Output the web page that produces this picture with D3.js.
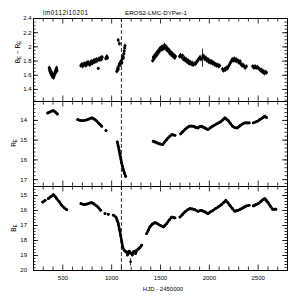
<!DOCTYPE html>
<html>
<head>
<meta charset="utf-8">
<script src="https://cdn.jsdelivr.net/npm/d3@7"></script>
<style>
  body { margin: 0; background: #fff; }
  text { font-family: "Liberation Sans", Arial, sans-serif; fill: #000; }
</style>
</head>
<body>
<div id="chart"></div>
<script>
// titles and axis labels
const titleLeft = "lm0112l10201";
const titleRight = "EROS2-LMC-DYPer-1";
const xLabel = "HJD - 2450000";
const xTicks = [500, 1000, 1500, 2000, 2500];
const cutHJD = 1105;

// B_E - R_E colour: [hjd, colour, error]
const colourPts = [
  [366,1.70,.03],[370,1.66,.03],[374,1.68,.03],[378,1.63,.03],[382,1.65,.03],[386,1.61,.03],
  [390,1.63,.03],[394,1.59,.03],[398,1.61,.03],[402,1.57,.03],[406,1.59,.03],[410,1.56,.03],
  [414,1.58,.03],[418,1.60,.03],[422,1.62,.03],[426,1.64,.03],[430,1.66,.03],[434,1.63,.03],
  [438,1.68,.03],[442,1.70,.03],[446,1.66,.03],
  [690,1.73,.03],[700,1.75,.03],[708,1.72,.03],[716,1.74,.03],[724,1.76,.03],[732,1.75,.03],
  [740,1.73,.03],[748,1.77,.03],[756,1.75,.03],[764,1.78,.03],[772,1.76,.03],[780,1.74,.03],
  [788,1.77,.03],[796,1.79,.03],[804,1.76,.03],[812,1.78,.03],[820,1.80,.03],[828,1.78,.03],
  [836,1.81,.03],[844,1.79,.03],[852,1.82,.03],[860,1.80,.03],[868,1.69,.02],[876,1.83,.03],
  [884,1.81,.03],[892,1.84,.03],[900,1.82,.03],[908,1.85,.03],[945,1.83,.03],[955,1.86,.03],
  [962,1.84,.03],
  [1058,1.65,.03],[1064,1.67,.03],[1068,1.70,.03],[1072,2.09,.03],[1074,1.68,.03],[1080,1.73,.03],
  [1084,2.04,.03],[1086,1.76,.03],[1092,1.74,.03],[1098,1.78,.03],[1104,1.80,.03],[1110,1.77,.03],
  [1116,1.83,.03],[1120,1.86,.03],[1125,1.84,.03],[1130,1.90,.03],[1134,1.94,.03],[1138,1.98,.03],
  [1142,2.01,.03],
  [1425,1.80,.03],[1432,1.85,.03],[1440,1.83,.03],[1448,1.88,.03],[1456,1.86,.03],[1465,1.91,.03],
  [1473,1.89,.03],[1481,1.94,.03],[1490,1.92,.03],[1498,1.97,.03],[1506,1.95,.03],[1514,1.99,.03],
  [1522,1.96,.03],[1530,2.00,.03],[1538,1.97,.03],[1546,2.02,.03],[1554,1.98,.03],[1562,2.00,.03],
  [1570,1.95,.03],[1578,1.97,.03],[1586,1.93,.03],[1594,1.95,.03],[1602,1.90,.03],[1610,1.92,.03],
  [1618,1.88,.03],[1626,1.90,.03],[1634,1.86,.03],[1642,1.88,.03],[1650,1.84,.03],[1658,1.86,.03],
  [1700,1.86,.03],[1710,1.88,.03],[1720,1.85,.03],[1730,1.87,.03],[1740,1.82,.03],[1750,1.84,.03],
  [1760,1.80,.03],[1770,1.82,.03],[1780,1.78,.03],[1790,1.80,.03],[1800,1.76,.03],[1810,1.78,.03],
  [1820,1.75,.03],[1830,1.77,.03],[1840,1.74,.03],[1850,1.76,.03],[1860,1.75,.03],[1870,1.77,.03],
  [1880,1.79,.03],[1890,1.81,.03],[1900,1.83,.03],[1910,1.85,.03],[1920,1.82,.03],[1935,1.84,.13],
  [1940,1.87,.03],[1950,1.86,.03],[1960,1.82,.03],[1970,1.84,.03],[1980,1.80,.03],[1990,1.82,.03],
  [2000,1.78,.03],[2010,1.80,.03],[2020,1.77,.03],[2030,1.79,.03],[2040,1.76,.03],[2050,1.77,.03],
  [2060,1.74,.03],[2070,1.75,.03],[2080,1.73,.03],[2090,1.74,.03],[2100,1.72,.03],[2110,1.73,.03],
  [2140,1.68,.03],[2150,1.66,.03],[2160,1.68,.03],[2170,1.67,.03],[2180,1.70,.03],[2190,1.69,.03],
  [2200,1.72,.03],[2210,1.74,.03],[2220,1.77,.03],[2230,1.79,.03],[2240,1.82,.03],[2250,1.80,.03],
  [2260,1.83,.03],[2270,1.80,.03],[2280,1.82,.03],[2290,1.79,.03],[2300,1.80,.03],[2310,1.77,.03],
  [2320,1.79,.03],[2330,1.75,.03],[2340,1.73,.03],[2350,1.74,.03],[2360,1.72,.03],[2372,1.70,.03],
  [2384,1.72,.03],
  [2450,1.72,.03],[2462,1.70,.03],[2474,1.72,.03],[2486,1.70,.03],[2498,1.71,.03],[2510,1.69,.03],
  [2520,1.68,.03],[2530,1.66,.03],[2540,1.67,.03],[2550,1.64,.03],[2560,1.65,.03],[2570,1.62,.03],
  [2580,1.64,.03],[2590,1.63,.03]
];

// R_E magnitude: [hjd, mag]
const rMag = [
  [350,13.65],[370,13.60],[390,13.55],[408,13.53],[428,13.60],[449,13.70],
  [657,13.98],[678,14.02],[698,14.04],[720,14.03],[749,14.00],[775,13.95],[800,13.90],[818,13.93],
  [834,13.98],[852,14.06],[868,14.15],[886,14.23],[903,14.32],
  [947,14.54],
  [1063,15.12],[1073,15.34],[1082,15.55],[1090,15.76],[1099,15.97],[1107,16.18],[1116,16.35],
  [1124,16.52],[1136,16.70],[1148,16.86],
  [1431,15.08],[1450,15.12],[1472,15.17],[1500,15.22],[1527,15.25],[1548,15.12],[1568,15.00],
  [1593,14.86],[1619,14.75],[1636,14.76],[1653,14.78],
  [1711,14.71],[1733,14.60],[1755,14.49],[1777,14.40],[1799,14.32],[1820,14.31],[1840,14.32],
  [1862,14.37],[1885,14.41],[1905,14.35],[1926,14.32],[1943,14.37],[1960,14.41],[1977,14.46],
  [1993,14.49],[2015,14.40],[2038,14.32],[2058,14.26],[2079,14.20],[2100,14.15],[2120,14.10],
  [2142,14.00],[2164,13.90],[2180,13.96],[2198,14.03],[2220,14.18],[2243,14.32],[2266,14.39],
  [2290,14.41],[2308,14.34],[2325,14.27],[2347,14.20],[2369,14.15],[2391,14.15],[2413,14.15],
  [2454,14.15],[2475,14.11],[2495,14.07],[2518,14.00],[2540,13.93],[2557,13.87],[2573,13.81],
  [2590,13.88]
];

// B_E magnitude: [hjd, mag]
const bMag = [
  [299,15.47],[325,15.36],[357,15.24],[385,15.10],[408,14.98],[425,15.08],[442,15.24],[468,15.45],
  [494,15.69],[520,15.86],[545,15.98],
  [691,15.58],[712,15.62],[732,15.64],[755,15.60],[778,15.54],[800,15.51],[825,15.60],[852,15.73],
  [872,15.86],[893,16.02],
  [937,16.24],[971,16.29],[1022,16.35],
  [1049,16.47],[1062,16.70],[1073,16.91],[1085,17.30],[1097,17.69],[1108,18.10],[1118,18.47],
  [1134,18.69],[1148,18.78],[1159,18.80],[1166,19.00],[1175,18.90],[1185,18.75],[1192,18.85],
  [1208,18.90],[1216,19.00],[1226,18.80],[1243,18.75],[1250,18.90],[1261,18.69],[1278,18.60],
  [1295,18.50],[1312,18.35],
  [1363,17.58],[1380,17.35],[1397,17.13],[1420,16.95],[1448,16.85],[1465,16.88],[1482,16.95],
  [1508,17.05],[1533,17.13],[1550,17.03],[1568,16.91],[1593,16.68],[1619,16.47],[1636,16.50],
  [1653,16.53],
  [1704,16.47],[1730,16.30],[1755,16.13],[1780,16.00],[1806,15.91],[1830,15.93],[1857,15.98],
  [1875,16.05],[1891,16.09],[1910,16.04],[1926,16.02],[1943,16.08],[1960,16.13],[1977,16.20],
  [1993,16.24],[2018,16.12],[2044,16.02],[2070,15.90],[2096,15.80],[2113,15.72],[2130,15.64],
  [2152,15.50],[2174,15.36],[2195,15.52],[2215,15.69],[2240,15.90],[2266,16.09],[2283,16.05],
  [2300,16.02],[2322,15.95],[2345,15.87],[2365,15.80],[2386,15.73],[2413,15.69],
  [2454,15.73],[2480,15.65],[2505,15.58],[2530,15.45],[2550,15.32],[2573,15.24],[2590,15.38],
  [2607,15.51],[2630,15.75],[2652,15.95],[2670,15.95],[2686,15.95]
];
// isolated B_E point with its error bar: [hjd, mag, error]
const bOutliers = [[1199,19.45,0.25]];

const W = 304, H = 304;
const L = 33, R = 287;

const svg = d3.select("#chart").append("svg")
  .attr("width", W).attr("height", H);

const x = d3.scaleLinear().domain([200, 2800]).range([L, R]);
const y1 = d3.scaleLinear().domain([1.23, 2.4]).range([101, 18]);
const y2 = d3.scaleLinear().domain([13.04, 17.35]).range([101, 186]);
const y3 = d3.scaleLinear().domain([14.4, 20]).range([186, 270]);

const xMajor = d3.range(500, 2801, 500);
const xMinor = d3.range(200, 2801, 100).filter(v => v % 500 !== 0);

function frame(y, yMajor, yMinor, labelPad, fmt, showX) {
  const top = Math.min(...y.range());
  const bottom = Math.max(...y.range());
  const g = svg.append("g");
  const ax = [
    [d3.axisBottom, bottom, -5.5, xMajor], [d3.axisBottom, bottom, -3.5, xMinor],
    [d3.axisTop, top, -5.5, xMajor], [d3.axisTop, top, -3.5, xMinor]
  ];
  ax.forEach(a => {
    g.append("g").attr("transform", `translate(0,${a[1]})`)
      .call(a[0](x).tickValues(a[3]).tickSizeInner(a[2]).tickSizeOuter(0).tickFormat(""));
  });
  const ay = [
    [d3.axisLeft, L, -5, yMajor], [d3.axisLeft, L, -2.5, yMinor],
    [d3.axisRight, R, -5, yMajor], [d3.axisRight, R, -2.5, yMinor]
  ];
  ay.forEach(a => {
    g.append("g").attr("transform", `translate(${a[1]},0)`)
      .call(a[0](y).tickValues(a[3]).tickSizeInner(a[2]).tickSizeOuter(0).tickFormat(""));
  });
  // y tick labels
  g.append("g").attr("transform", `translate(${L},0)`)
    .call(d3.axisLeft(y).tickValues(yMajor).tickSize(0).tickPadding(labelPad).tickFormat(fmt))
    .call(s => s.select(".domain").remove());
  if (showX) {
    g.append("g").attr("transform", `translate(0,${bottom})`)
      .call(d3.axisBottom(x).tickValues(xTicks).tickSize(0).tickPadding(6).tickFormat(d3.format("d")))
      .call(s => s.select(".domain").remove());
  }
  g.selectAll("path.domain").attr("stroke", "#000").attr("stroke-width", 0.9);
  g.selectAll(".tick line").attr("stroke", "#000").attr("stroke-width", 0.8);
  g.selectAll("text").attr("font-family", null).style("font-size", "6px")
    .style("font-family", '"Liberation Sans Narrow", "Liberation Sans", Arial, sans-serif');
  return g;
}

frame(y1, [1.4, 1.6, 1.8, 2, 2.2, 2.4], d3.range(1.25, 2.401, 0.05).map(v => +v.toFixed(2)), 1.5, d3.format("~g"), false);
frame(y2, [14, 15, 16, 17], d3.range(13.2, 17.3, 0.2).map(v => +v.toFixed(1)), 6, d3.format("d"), false);
frame(y3, [15, 16, 17, 18, 19, 20], d3.range(14.4, 20.01, 0.2).map(v => +v.toFixed(1)), 6, d3.format("d"), true);

// dashed line marking the event
svg.append("line")
  .attr("x1", x(cutHJD)).attr("x2", x(cutHJD))
  .attr("y1", y1.range()[1]).attr("y2", y3.range()[1])
  .attr("stroke", "#000").attr("stroke-width", 0.8)
  .attr("stroke-dasharray", "4,2");

// colour panel: points with error bars
const cg = svg.append("g");
cg.selectAll("line").data(colourPts).enter().append("line")
  .attr("x1", d => x(d[0])).attr("x2", d => x(d[0]))
  .attr("y1", d => y1(d[1] - d[2])).attr("y2", d => y1(d[1] + d[2]))
  .attr("stroke", "#000").attr("stroke-width", 0.8);
cg.selectAll("circle").data(colourPts).enter().append("circle")
  .attr("cx", d => x(d[0])).attr("cy", d => y1(d[1]))
  .attr("r", 1.5).attr("fill", "#000");

// split light curve wherever there is a gap in time
function segments(pts, gap) {
  const out = [];
  let cur = [];
  pts.forEach((p, i) => {
    if (i > 0 && p[0] - pts[i - 1][0] > gap) { out.push(cur); cur = []; }
    cur.push(p);
  });
  if (cur.length) out.push(cur);
  return out;
}

function curve(data, y) {
  const g = svg.append("g");
  const line = d3.line().x(d => x(d[0])).y(d => y(d[1]));
  g.selectAll("path").data(segments(data, 30)).enter().append("path")
    .attr("d", line).attr("fill", "none").attr("stroke", "#000")
    .attr("stroke-width", 2.6).attr("stroke-linecap", "round").attr("stroke-linejoin", "round");
  g.selectAll("circle").data(data).enter().append("circle")
    .attr("cx", d => x(d[0])).attr("cy", d => y(d[1]))
    .attr("r", 1.4).attr("fill", "#000");
  return g;
}

curve(rMag, y2);
const bg = curve(bMag, y3);
bg.selectAll("line").data(bOutliers).enter().append("line")
  .attr("x1", d => x(d[0])).attr("x2", d => x(d[0]))
  .attr("y1", d => y3(d[1] - d[2])).attr("y2", d => y3(d[1] + d[2]))
  .attr("stroke", "#000").attr("stroke-width", 0.8);
bg.selectAll("circle.out").data(bOutliers).enter().append("circle")
  .attr("class", "out")
  .attr("cx", d => x(d[0])).attr("cy", d => y3(d[1]))
  .attr("r", 1.3).attr("fill", "#000");

// titles
svg.append("text").attr("x", 43).attr("y", 15)
  .style("font-size", "6.4px").style("letter-spacing", "0.5px").text(titleLeft);
svg.append("text").attr("x", 125).attr("y", 15)
  .style("font-size", "6.2px").text(titleRight);
svg.append("text").attr("x", 163).attr("y", 291).attr("text-anchor", "middle")
  .style("font-size", "6px").text(xLabel);

// rotated y titles with subscripts
function yTitle(cx, cy, parts) {
  const t = svg.append("text")
    .attr("transform", `translate(${cx},${cy}) rotate(-90)`)
    .attr("text-anchor", "middle").style("font-size", "6.5px");
  parts.forEach(p => {
    t.append("tspan").text(p[0])
      .style("font-size", p[1] ? "4.5px" : "6.5px")
      .attr("baseline-shift", p[1] ? "-25%" : null);
  });
}
yTitle(20, 52, [["B", false], ["E", true], [" \u2212 R", false], ["E", true]]);
yTitle(15.5, 143, [["R", false], ["E", true]]);
yTitle(15.5, 228, [["B", false], ["E", true]]);
</script>
</body>
</html>
